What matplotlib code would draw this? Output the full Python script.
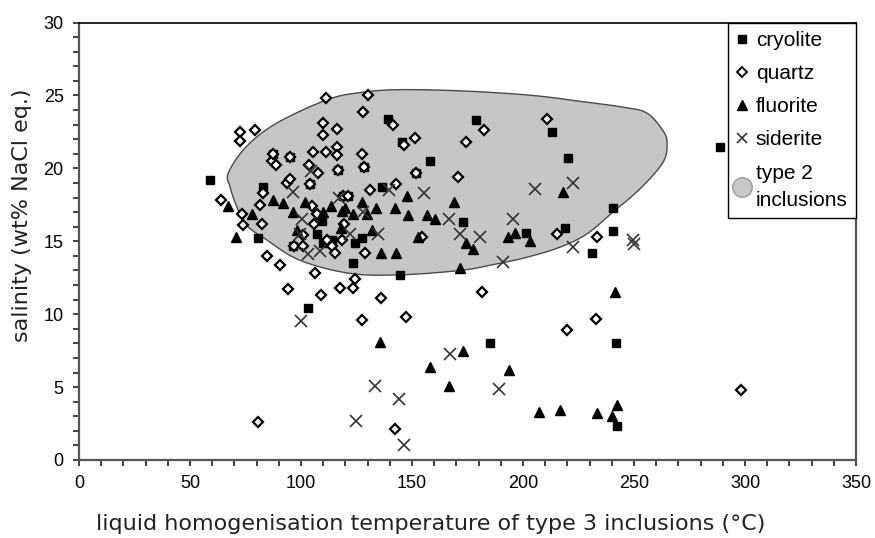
import numpy as np
import matplotlib
matplotlib.use("Agg")
import matplotlib.pyplot as plt
from matplotlib.lines import Line2D
from matplotlib.patches import Polygon
from matplotlib.ticker import MultipleLocator

plt.rcParams['font.family'] = ['Liberation Sans', 'DejaVu Sans']

# ---- data (temperature degC, salinity wt% NaCl eq.) ----
cryolite_x = [59, 80.7, 83, 87.5, 95, 103, 104, 107, 109.3, 116.5, 119, 121, 123.5, 124.5, 127.3,
              110, 114, 96.4, 128.4, 136.4, 139, 145.3, 144.6, 152, 158, 173, 179, 185, 201.5,
              213, 219, 220.4, 231, 240.5, 240.5, 242, 242.3, 288.7]
cryolite_y = [19.2, 15.2, 18.7, 21.0, 20.8, 10.4, 18.9, 15.5, 16.4, 19.9, 18.1, 18.1, 13.5, 14.9, 15.2,
              14.9, 15.1, 14.7, 20.1, 18.7, 23.4, 21.8, 12.7, 19.7, 20.5, 16.3, 23.3, 8.0, 15.6,
              22.5, 15.9, 20.7, 14.2, 17.3, 15.7, 8.0, 2.3, 21.5]

quartz_x = [64, 72.5, 72.5, 79.3, 73.3, 73.7, 82.3, 81.5, 83, 86.8, 88.7, 87.5, 95, 93.5, 95,
            103.5, 107.5, 111.2, 109.8, 109.8, 116, 105.5, 111.2, 116, 116, 105, 107, 119.5, 118.3,
            111.5, 97, 130.3, 128, 127.3, 141.6, 146.4, 151.4, 174.2, 182.6, 211, 170.6, 116.7,
            128.4, 152, 131, 142.8, 215.2, 233.5, 154.3, 84.8, 90.5, 94.3, 109, 117.6, 123.6,
            106.3, 124.3, 80.8, 100.7, 113.8, 115.3, 128.8, 136, 127.3, 147.3, 181.7, 220, 232.8,
            142.3, 298.2, 119, 121, 104, 106, 100.8]
quartz_y = [17.8, 22.5, 21.9, 22.6, 16.9, 16.1, 16.2, 17.5, 18.3, 20.5, 20.2, 21.0, 20.8, 19.0, 19.3,
            20.2, 19.7, 24.8, 23.1, 22.3, 22.7, 21.1, 21.1, 21.5, 20.9, 17.4, 16.9, 16.2, 15.1,
            15.1, 14.7, 25.0, 23.9, 21.0, 23.0, 21.6, 22.1, 21.8, 22.6, 23.4, 19.4, 19.9,
            20.1, 19.7, 18.5, 18.9, 15.5, 15.3, 15.3, 14.0, 13.4, 11.7, 11.3, 11.8, 11.8,
            12.8, 12.4, 2.6, 15.4, 14.7, 14.2, 14.2, 11.1, 9.6, 9.8, 11.5, 8.9, 9.7,
            2.1, 4.8, 18.1, 18.1, 18.9, 16.2, 14.7]

fluorite_x = [67.3, 70.5, 77.8, 87.5, 91.8, 96.5, 98, 101.8, 113.5, 118.3, 119.8, 123.6, 127.3, 129.6,
              134, 142.3, 147.6, 148.3, 131.8, 117.9, 136, 143, 152.8, 156.6, 160.4, 169, 171.5,
              174.3, 177.6, 193.4, 196.5, 203, 218, 135.6, 158, 173, 166.7, 193.8, 207.4, 216.7,
              233.5, 240, 242.5, 241.4, 110]
fluorite_y = [17.4, 15.3, 16.9, 17.8, 17.6, 17.0, 15.8, 17.7, 17.4, 17.1, 17.3, 16.9, 17.7, 16.9,
              17.3, 17.3, 18.1, 16.8, 15.8, 15.9, 14.2, 14.2, 15.3, 16.8, 16.5, 17.7, 13.2,
              14.9, 14.5, 15.3, 15.6, 15.0, 18.4, 8.1, 6.4, 7.5, 5.1, 6.2, 3.3, 3.4,
              3.2, 3.0, 3.8, 11.5, 17.0]

siderite_x = [96.4, 100.3, 99.5, 104.5, 99.9, 103.3, 108.6, 122, 124.8, 133.3, 134.8, 139.8, 144.3,
              146.5, 155.5, 166.8, 167.1, 171.6, 180.6, 189.2, 191.1, 195.6, 205.4, 222.4, 222.4,
              249.7, 250, 117, 128]
siderite_y = [18.4, 16.5, 15.5, 19.8, 9.5, 14.1, 14.3, 15.5, 2.7, 5.1, 15.5, 18.5, 4.2,
              1.0, 18.3, 16.5, 7.3, 15.5, 15.3, 4.9, 13.6, 16.5, 18.6, 19.0, 14.6,
              15.1, 14.8, 18.0, 17.0]

# outline of the type 2 inclusion field
field_x = [67.3, 75.4, 89, 111.6, 126.6, 144.6, 174.6, 204.5, 225.7, 245, 255.7, 263, 264.9, 263,
           252.7, 240.5, 228.7, 216.7, 201.6, 186.5, 171.6, 144.6, 122, 99.5, 84.5, 75.5, 71, 68]
field_y = [19.7, 21.5, 23.1, 24.7, 25.2, 25.4, 25.3, 25.0, 24.6, 24.2, 23.8, 22.6, 21.7, 20.4,
           18.6, 17.0, 15.5, 14.6, 13.9, 13.4, 13.0, 12.7, 12.8, 13.7, 15.1, 16.1, 17.4, 18.75]


def closed_spline(xs, ys, n=25):
    P = np.column_stack([xs, ys])
    N = len(P)
    t = np.linspace(0, 1, n, endpoint=False)[:, None]
    out = []
    for i in range(N):
        p0, p1, p2, p3 = P[i - 1], P[i], P[(i + 1) % N], P[(i + 2) % N]
        out.append(0.5 * (2 * p1 + (-p0 + p2) * t + (2 * p0 - 5 * p1 + 4 * p2 - p3) * t ** 2
                          + (-p0 + 3 * p1 - 3 * p2 + p3) * t ** 3))
    return np.vstack(out)


fig = plt.figure(figsize=(8.75, 5.38), dpi=100)
ax = fig.add_axes([0.0903, 0.145, 0.888, 0.813])

field = Polygon(closed_spline(field_x, field_y), closed=True, facecolor='#c6c6c6',
                edgecolor='#4a4a4a', linewidth=1.0, zorder=1)
ax.add_patch(field)

ax.plot(cryolite_x, cryolite_y, linestyle='none', marker='s', ms=6.3, mfc='black', mec='black', zorder=3)
ax.plot(quartz_x, quartz_y, linestyle='none', marker='D', ms=5.4, mfc='white', mec='black', mew=1.6, zorder=4)
ax.plot(fluorite_x, fluorite_y, linestyle='none', marker='^', ms=7.5, mfc='black', mec='black', zorder=5)
ax.plot(siderite_x, siderite_y, linestyle='none', marker='x', ms=8, mec='#333333', mew=1.2, zorder=6)

ax.set_xlim(0, 350)
ax.set_ylim(0, 30)
ax.xaxis.set_major_locator(MultipleLocator(50))
ax.xaxis.set_minor_locator(MultipleLocator(10))
ax.yaxis.set_major_locator(MultipleLocator(5))
ax.yaxis.set_minor_locator(MultipleLocator(1))
ax.tick_params(which='both', direction='out', length=4, width=1.3, color='#333333',
               labelsize=13, pad=7)
for s in ['left', 'bottom', 'right']:
    ax.spines[s].set_color('#555555')
    ax.spines[s].set_linewidth(1.6)
ax.spines['top'].set_color('black')
ax.spines['top'].set_linewidth(1.2)

ax.set_xlabel('liquid homogenisation temperature of type 3 inclusions (°C)', fontsize=16,
              family=['DejaVu Sans'], va='center', color='#222222')
ax.xaxis.set_label_coords(0.452, (460 - 524) / 437.5)
ax.set_ylabel('salinity (wt% NaCl eq.)', fontsize=16, family=['DejaVu Sans'], va='center',
              color='#222222')
ax.yaxis.set_label_coords((22 - 79) / 777, (460 - 215) / 437.5)

handles = [
    Line2D([], [], linestyle='none', marker='s', ms=6, mfc='black', mec='black'),
    Line2D([], [], linestyle='none', marker='D', ms=5, mfc='white', mec='black', mew=1.4),
    Line2D([], [], linestyle='none', marker='^', ms=7.5, mfc='black', mec='black'),
    Line2D([], [], linestyle='none', marker='x', ms=7.5, mec='#333333', mew=1.2),
    Line2D([], [], linestyle='none', marker='o', ms=14, mfc='#c8c8c8', mec='#9a9a9a', mew=1.0),
]
labels = ['cryolite', 'quartz', 'fluorite', 'siderite', 'type 2\ninclusions']
leg = ax.legend(handles, labels, loc='upper right', bbox_to_anchor=(1.0, 1.0), borderaxespad=0,
                frameon=True, fancybox=False, edgecolor='black', framealpha=1, fontsize=15,
                handlelength=0.6, handletextpad=0.35, labelspacing=0.68, borderpad=0.4)
leg.get_frame().set_linewidth(1.0)
for t in leg.get_texts():
    t.set_linespacing(1.55)
leg.set_zorder(10)

fig.savefig('out.png', dpi=100)
